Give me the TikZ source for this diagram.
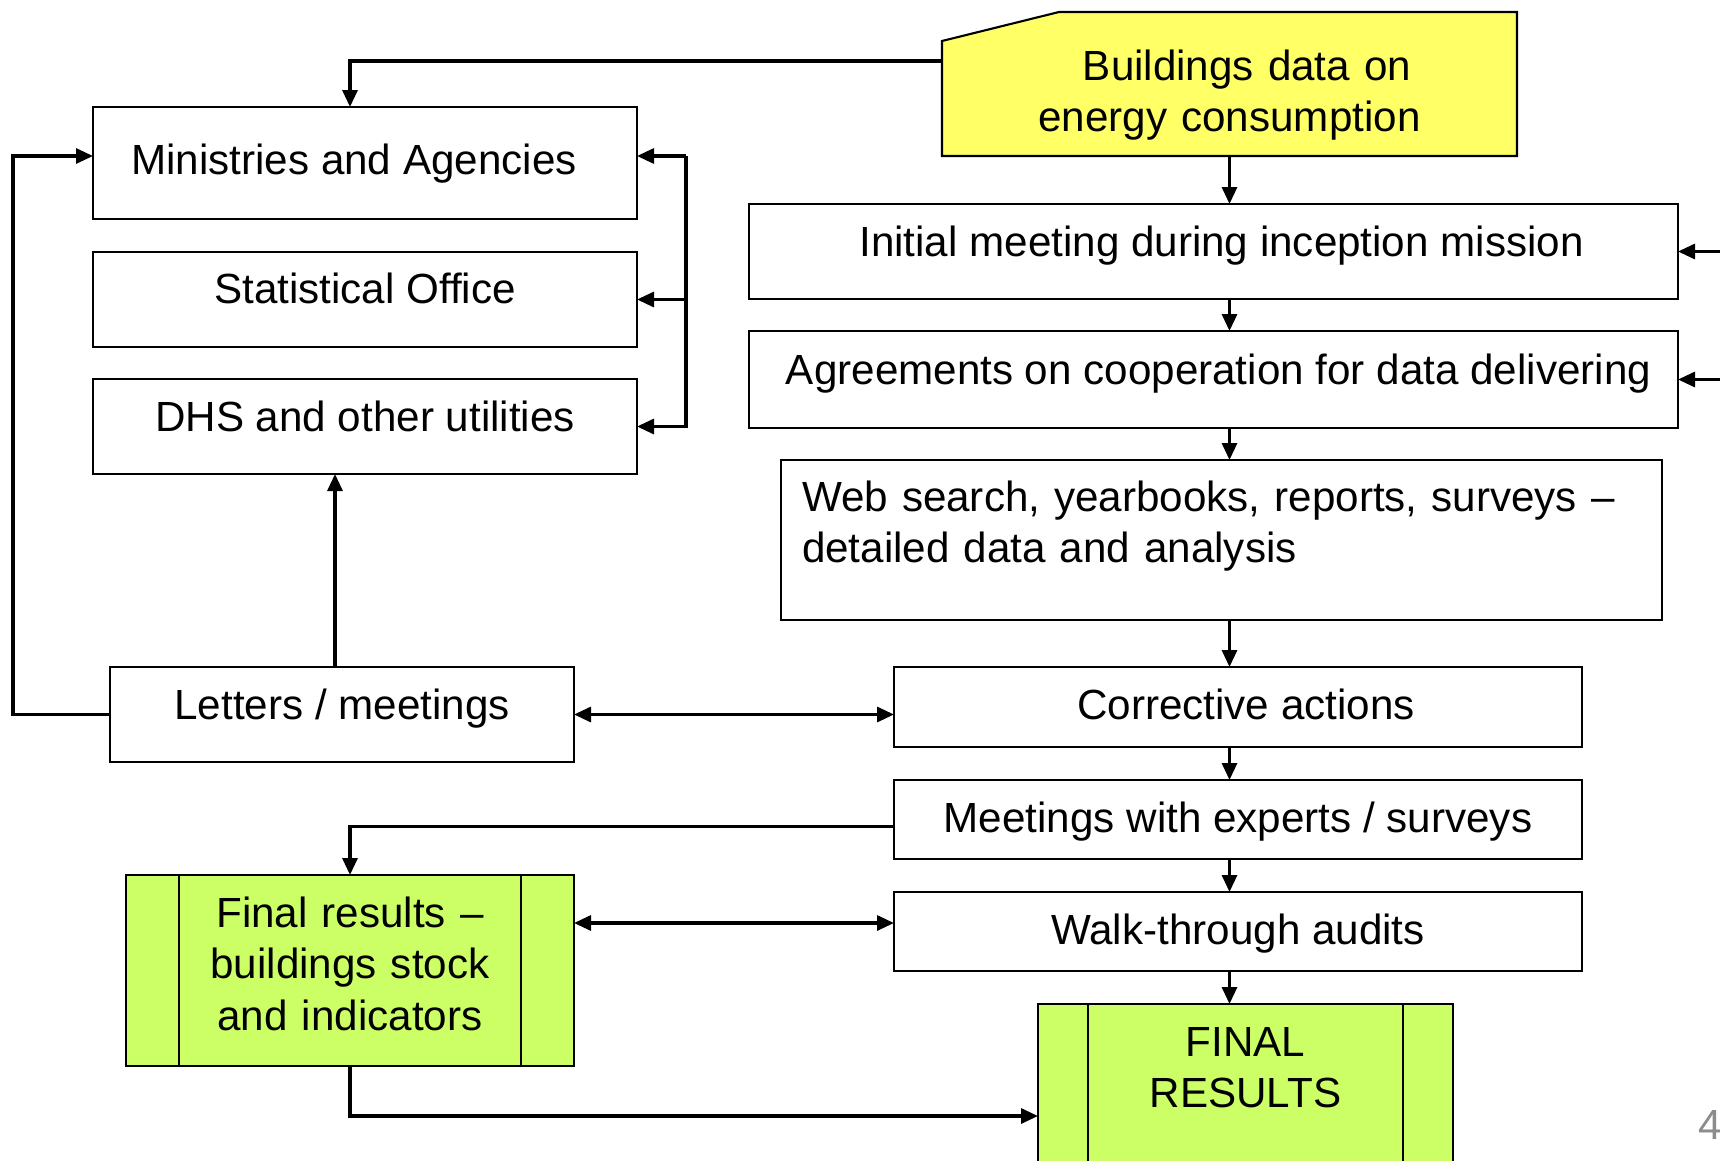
\documentclass[tikz,border=0pt]{standalone}
\usepackage{fontspec}
\setmainfont{Liberation Sans}
\usetikzlibrary{arrows.meta,positioning,backgrounds}
\definecolor{datayellow}{RGB}{255,255,102}
\definecolor{resgreen}  {RGB}{204,255,102}
\definecolor{pagegray}  {RGB}{140,140,140}
\newcommand{\boxfont}{\fontsize{12}{14.6}\selectfont}
\tikzset{
  cell/.style={draw, line width=0.6pt, inner sep=0pt, outer sep=0pt, font=\boxfont,
               minimum width=#1, text height=0.50cm, text depth=0.45cm},
  cell/.default=5.44cm,
  proc/.style={draw, line width=0.6pt, fill=resgreen, inner sep=0pt, outer sep=0pt,
               font=\boxfont, align=center,
               path picture={
                 \draw[line width=0.6pt]
                   ([xshift=#1]path picture bounding box.north west) --
                   ([xshift=#1]path picture bounding box.south west)
                   ([xshift=-#1]path picture bounding box.north east) --
                   ([xshift=-#1]path picture bounding box.south east);}},
  arr/.style ={-{Triangle[length=0.17cm,width=0.15cm]}, line width=0.9pt},
  darr/.style={{Triangle[length=0.17cm,width=0.15cm]}-{Triangle[length=0.17cm,width=0.15cm]},
               line width=0.9pt},
}

\begin{document}
\begin{tikzpicture}
  \path[use as bounding box] (0,0) rectangle (17.2,-11.6);

  % left column
  \node[cell, anchor=north west, text height=0.67cm] (min) at (0.93,-1.07)
        {Ministries and Agencies\kern0.22cm};
  \node[cell, below=0.33cm of min, text height=0.51cm, text depth=0.44cm] (stat)
        {Statistical Office};
  \node[cell, below=0.32cm of stat, text height=0.52cm, text depth=0.43cm] (dhs)
        {DHS and other utilities};
  \node[cell=4.64cm, anchor=north west, text height=0.52cm, text depth=0.43cm]
        (lett) at (1.10,-6.67) {Letters / meetings};
  \node[proc=0.53cm, anchor=north west, text width=4.48cm,
        text height=0.525cm, text depth=1.385cm] (fin) at (1.26,-8.75)
        {Final results –\\buildings stock\\and indicators};

  % right column
  \node[cell=5.75cm, draw=none, anchor=north west, text width=5.75cm, align=center,
        text height=0.685cm, text depth=0.755cm] (data) at (9.42,-0.12)
        {\hspace{0.35cm}Buildings data on\\energy consumption};
  \node[cell=9.29cm, anchor=north west, text height=0.52cm, text depth=0.43cm]
        (init) at (7.49,-2.04) {\kern0.16cm Initial meeting during inception mission};
  \node[cell=9.29cm, below=0.32cm of init, text height=0.53cm, text depth=0.44cm]
        (agree) {\kern0.10cm Agreements on cooperation for data delivering};
  \node[cell=8.81cm, below=0.32cm of agree, xshift=0.08cm, text width=8.39cm,
        inner xsep=0.21cm, align=left, text height=0.51cm, text depth=1.09cm]
        (web) {Web search, yearbooks, reports, surveys –\\detailed data and analysis};
  \node[cell=6.88cm, below=0.47cm of web, xshift=0.165cm,
        text height=0.52cm, text depth=0.28cm] (corr) {\kern0.16cm Corrective actions};
  \node[cell=6.88cm, below=0.33cm of corr, text height=0.52cm, text depth=0.27cm]
        (meet) {Meetings with experts / surveys};
  \node[cell=6.88cm, below=0.33cm of meet, text height=0.52cm, text depth=0.27cm]
        (walk) {Walk-through audits};
  \node[proc=0.50cm, below=0.33cm of walk, xshift=0.075cm, text width=4.15cm,
        text height=0.52cm, text depth=1.24cm] (final) {FINAL\\RESULTS};

  \node[font=\boxfont, text=pagegray, anchor=base west, inner sep=0pt]
        (pgno) at (16.98,-11.39) {4};

  % cut-corner card behind the data node
  \begin{scope}[on background layer]
    \filldraw[fill=datayellow, line width=0.6pt]
      (data.south west) -- ([yshift=-0.29cm]data.north west)
      -- ([xshift=1.17cm]data.north west) -- (data.north east)
      -- (data.south east) -- cycle;
  \end{scope}

  \coordinate (spine) at (data.south);
  \coordinate (rim) at (17.2,0);

  \draw[arr] ([yshift=0.23cm]data.west) -| ([xshift=-0.15cm]min.north);
  \draw[arr] (lett.west) -- ++(-0.97,0) |- ([yshift=0.07cm]min.west);
  \draw[arr] ([xshift=0.49cm,yshift=0.07cm]min.east) coordinate (brk)
             -- ([yshift=0.07cm]min.east);
  \draw[arr] (brk) |- (dhs.east);
  \draw[arr] (stat.east -| brk) -- (stat.east);
  \draw[arr] ([xshift=-0.07cm]lett.north) -- ([xshift=-0.07cm]lett.north |- dhs.south);
  \draw[darr] (lett.east) -- (lett.east -| corr.west);

  \draw[arr] (data.south) -- (data.south |- init.north);
  \foreach \a/\b in {init/agree, agree/web, web/corr, corr/meet, meet/walk, walk/final}
    \draw[arr] (\a.south -| spine) -- (\b.north -| spine);
  \draw[arr] (init.east -| rim) -- (init.east);
  \draw[arr] (agree.east -| rim) -- (agree.east);

  \draw[arr] ([yshift=-0.07cm]meet.west) -| (fin.north);
  \draw[darr] ([yshift=0.085cm]walk.west) -- ([yshift=0.085cm]walk.west -| fin.east);
  \draw[arr] (fin.south) |- ([yshift=-0.24cm]final.west);
\end{tikzpicture}
\end{document}
